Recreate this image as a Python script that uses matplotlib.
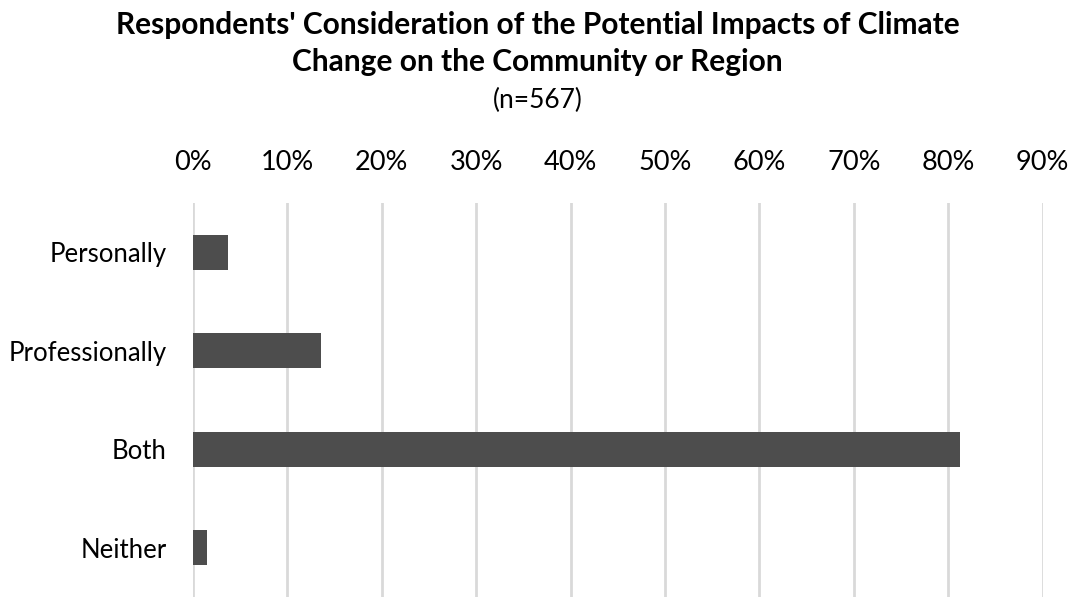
import matplotlib.pyplot as plt
from matplotlib.ticker import PercentFormatter

categories = ['Personally', 'Professionally', 'Both', 'Neither']
values = [3.7, 13.6, 81.2, 1.5]
xticks = [0, 10, 20, 30, 40, 50, 60, 70, 80, 90]

plt.rcParams['font.family'] = ['Lato', 'DejaVu Sans']

fig = plt.figure(figsize=(10.75, 5.97), dpi=100)
ax = fig.add_axes([0.1795, 0.0, 0.7905, 0.66])

ax.barh(categories, values, height=0.36, color='#4d4d4d', zorder=3)
ax.set_xlim(0, 90)
ax.set_ylim(3.5, -0.5)
ax.set_xticks(xticks)
ax.xaxis.set_major_formatter(PercentFormatter(decimals=0))
ax.xaxis.tick_top()
ax.tick_params(axis='both', length=0, colors='#000000')
ax.tick_params(axis='x', pad=20, labelsize=19.5)
ax.tick_params(axis='y', pad=19, labelsize=18.5)
ax.grid(axis='x', color='#d9d9d9', linewidth=2, zorder=0)
for s in ax.spines.values():
    s.set_visible(False)

fig.text(0.5, 0.958, "Respondents' Consideration of the Potential Impacts of Climate",
         ha='center', va='center', fontsize=21.5, fontweight='bold')
fig.text(0.5, 0.896, 'Change on the Community or Region',
         ha='center', va='center', fontsize=21.5, fontweight='bold')
fig.text(0.5, 0.832, '(n=567)', ha='center', va='center', fontsize=19)

fig.savefig('out.png', dpi=100)
